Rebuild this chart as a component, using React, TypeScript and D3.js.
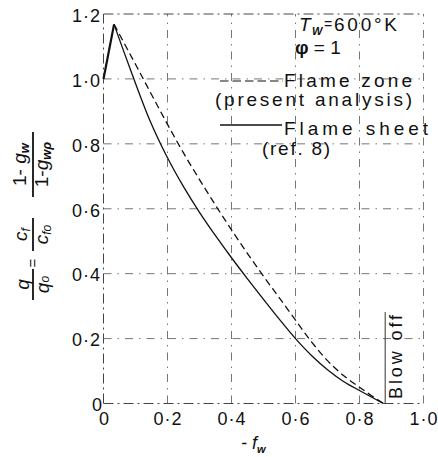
import React from "react";
import * as d3 from "d3";

const W = 438;
const H = 457;

const xTicks = [0, 0.2, 0.4, 0.6, 0.8, 1.0];
const xTickLabels = ["0", "0·2", "0·4", "0·6", "0·8", "1·0"];
const yTicks = [0, 0.2, 0.4, 0.6, 0.8, 1.0, 1.2];
const yTickLabels = ["0", "0·2", "0·4", "0·6", "0·8", "1·0", "1·2"];

const riseX = [0, 0.033];
const riseY = [1.0, 1.168];

const sheetX = [0.033, 0.08, 0.145, 0.2, 0.25, 0.3, 0.35, 0.4, 0.45, 0.5, 0.55, 0.6, 0.65, 0.7, 0.75, 0.8, 0.85, 0.875];
const sheetY = [1.168, 1.04, 0.872, 0.757, 0.668, 0.589, 0.517, 0.449, 0.384, 0.321, 0.259, 0.2, 0.148, 0.104, 0.068, 0.04, 0.013, 0];

const zoneX = [0.033, 0.1, 0.15, 0.2, 0.25, 0.3, 0.35, 0.4, 0.45, 0.5, 0.55, 0.6, 0.65, 0.7, 0.75, 0.8, 0.85, 0.875];
const zoneY = [1.168, 1.045, 0.952, 0.86, 0.772, 0.69, 0.611, 0.535, 0.462, 0.392, 0.325, 0.257, 0.19, 0.132, 0.086, 0.05, 0.016, 0];

const blowOffX = 0.874;

const FONT = "'Liberation Sans', Arial, sans-serif";

export default function App() {
  const x = d3.scaleLinear().domain([0, 1]).range([103.5, 423.5]);
  const y = d3.scaleLinear().domain([0, 1.2]).range([403.5, 14]);

  const line = d3
    .line<[number, number]>()
    .x((d) => x(d[0]))
    .y((d) => y(d[1]))
    .curve(d3.curveCatmullRom.alpha(0.5));
  const straight = d3
    .line<[number, number]>()
    .x((d) => x(d[0]))
    .y((d) => y(d[1]));

  const sheet = sheetX.map((v, i) => [v, sheetY[i]] as [number, number]);
  const zone = zoneX.map((v, i) => [v, zoneY[i]] as [number, number]);
  const rise = riseX.map((v, i) => [v, riseY[i]] as [number, number]);

  const gridStyle = { stroke: "#666", strokeWidth: 0.9, strokeDasharray: "8,6,1.5,6", fill: "none" };
  const frameStyle = { stroke: "#444", strokeWidth: 1, strokeDasharray: "10,4,2,4", fill: "none" };

  return (
    <svg width={W} height={H} style={{ position: "absolute", left: 0, top: 0, background: "#fff" }} fontFamily={FONT}>
      {/* grid */}
      {xTicks.map((t) => (
        <line key={"gx" + t} x1={x(t)} x2={x(t)} y1={y(0)} y2={y(1.2)} style={t === 0 ? frameStyle : gridStyle} />
      ))}
      {yTicks.map((t) => (
        <line key={"gy" + t} x1={x(0)} x2={x(1)} y1={y(t)} y2={y(t)} style={t === 0 || t === 1.2 ? frameStyle : gridStyle} />
      ))}
      {/* tick labels */}
      {yTicks.map((t, i) => (
        <text
          key={"yl" + t}
          x={t === 0 ? 102 : 100}
          y={y(t) + 7.8}
          fontSize={18}
          textAnchor="end"
          fill="#111"
          {...(yTickLabels[i].length > 1 ? { textLength: 28, lengthAdjust: "spacing" } : {})}
        >
          {yTickLabels[i]}
        </text>
      ))}
      {xTicks.map((t, i) => (
        <text
          key={"xl" + t}
          x={x(t) + (t === 0 ? 0.5 : 0)}
          y={425}
          fontSize={18}
          textAnchor="middle"
          fill="#111"
          {...(xTickLabels[i].length > 1 ? { textLength: 28, lengthAdjust: "spacing" } : {})}
        >
          {xTickLabels[i]}
        </text>
      ))}
      {/* x axis label */}
      <text x={241} y={449} fontSize={18} fill="#111" fontStyle="italic">
        - f
        <tspan fontSize={11} dy={4} fontWeight="bold">w</tspan>
      </text>
      {/* y axis label (rotated) */}
      <g transform="translate(33,300) rotate(-90)" fill="#111" fontSize={19}>
        <line x1={0} x2={31} y1={0} y2={0} stroke="#111" strokeWidth={1.8} />
        <text x={15.5} y={-4} textAnchor="middle" fontStyle="italic">q</text>
        <text x={15.5} y={16} textAnchor="middle" fontStyle="italic">q<tspan fontSize={12}>o</tspan></text>
        <text x={37} y={5} textAnchor="middle" fontSize={15}>=</text>
        <line x1={49} x2={82} y1={0} y2={0} stroke="#111" strokeWidth={1.8} />
        <text x={65.5} y={-6} textAnchor="middle" fontStyle="italic">c<tspan fontSize={12} dy={3}>f</tspan></text>
        <text x={65.5} y={15} textAnchor="middle" fontStyle="italic">c<tspan fontSize={12} dy={3}>fo</tspan></text>
        <line x1={103} x2={168} y1={0} y2={0} stroke="#111" strokeWidth={1.8} />
        <text x={135.5} y={-7} textAnchor="middle">1- <tspan fontStyle="italic">g</tspan><tspan fontSize={13} dy={3} fontStyle="italic" fontWeight="bold">w</tspan></text>
        <text x={135.5} y={15} textAnchor="middle">1-<tspan fontStyle="italic">g</tspan><tspan fontSize={13} dy={3} fontStyle="italic" fontWeight="bold">wρ</tspan></text>
      </g>
      {/* curves */}
      <path d={straight(rise) || ""} fill="none" stroke="#111" strokeWidth={2.2} />
      <path d={line(zone) || ""} fill="none" stroke="#111" strokeWidth={1.3} strokeDasharray="7,4" />
      <path d={line(sheet) || ""} fill="none" stroke="#111" strokeWidth={1.3} />
      {/* blow off */}
      <line x1={x(blowOffX) + 2} x2={x(blowOffX) + 2} y1={312} y2={y(0)} stroke="#333" strokeWidth={1} />
      <text transform={`translate(402,399) rotate(-90)`} fontSize={18} fill="#111" textLength={84} lengthAdjust="spacing">
        Blow off
      </text>
      {/* legend */}
      <text x={299} y={31} fontSize={19} fill="#111" fontStyle="italic">T</text>
      <text x={312} y={35} fontSize={11} fill="#111" fontStyle="italic" fontWeight="bold">W</text>
      <text x={324} y={29} fontSize={14} fill="#111">=</text>
      <text x={334} y={31} fontSize={19} fill="#111" textLength={63} lengthAdjust="spacing">600°K</text>
      <text x={295} y={54} fontSize={19} fill="#111">
        <tspan fontWeight="bold">φ</tspan> = 1
      </text>
      <line x1={220} x2={283} y1={81} y2={81} stroke="#111" strokeWidth={1.2} strokeDasharray="8.5,4" />
      <text x={284} y={87} fontSize={19} fill="#111" textLength={128} lengthAdjust="spacing">Flame zone</text>
      <text x={215} y={106} fontSize={19} fill="#111" textLength={197} lengthAdjust="spacing">(present analysis)</text>
      <line x1={220} x2={282} y1={125} y2={125} stroke="#111" strokeWidth={1.4} />
      <text x={284} y={135} fontSize={19} fill="#111" textLength={144} lengthAdjust="spacing">Flame sheet</text>
      <text x={262} y={155} fontSize={19} fill="#111" textLength={68} lengthAdjust="spacing">(ref. 8)</text>
    </svg>
  );
}
